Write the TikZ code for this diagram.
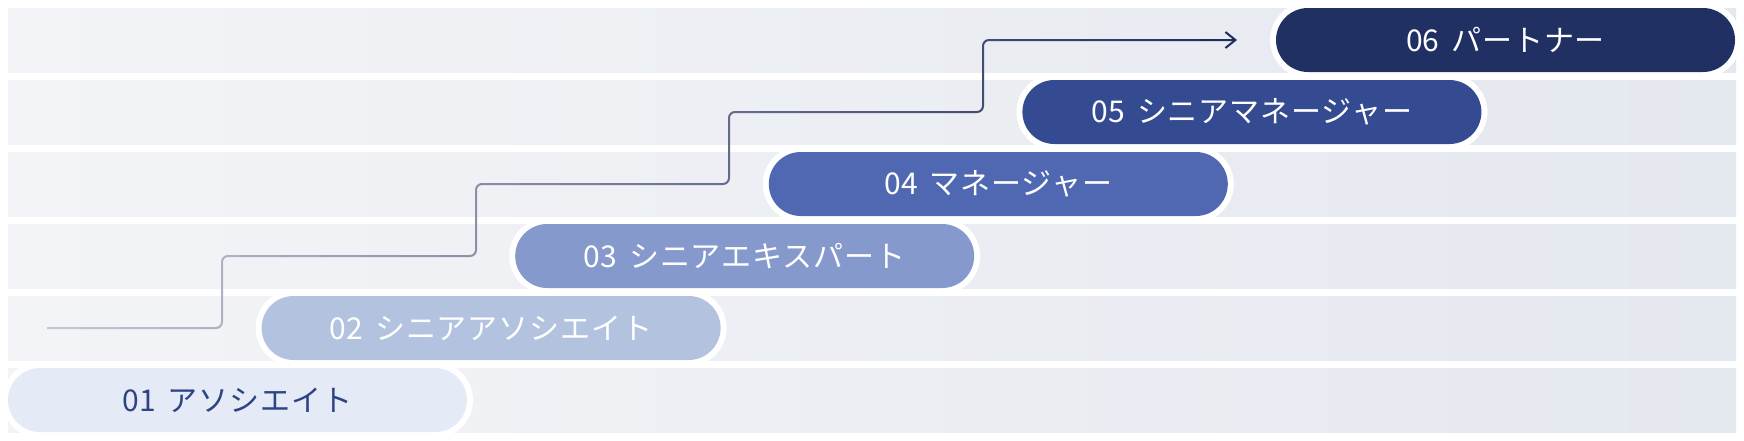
\documentclass[tikz,border=0pt]{standalone}
\usepackage{fontspec}
\setmainfont{Noto Sans CJK JP}
\newfontfamily\kana[LetterSpace=3]{Noto Sans CJK JP}
\usepackage{tikz}
\usetikzlibrary{arrows.meta}
\definecolor{bgL}{HTML}{F3F4F7}
\definecolor{bgR}{HTML}{E4E8EF}
\definecolor{lnA}{HTML}{C4C6D2}
\definecolor{lnB}{HTML}{1F2D5C}
\definecolor{cA}{HTML}{E5EBF6}
\definecolor{cB}{HTML}{B3C2DE}
\definecolor{cC}{HTML}{8699CC}
\definecolor{cD}{HTML}{5068B2}
\definecolor{cE}{HTML}{354B91}
\definecolor{cF}{HTML}{213063}
\definecolor{tA}{HTML}{2E4385}
\newcommand{\lvl}[2]{#1\hspace{6pt}{\kana #2}}
\tikzset{
  pill/.style={rectangle,rounded corners=16pt,minimum width=229.5pt,minimum height=32pt,inner sep=0pt,
    text=white,font=\fontsize{15pt}{18pt}\selectfont,preaction={draw=white,line width=6pt}},
  stair/.style={line width=1pt,rounded corners=3pt}
}
\begin{document}
\begin{tikzpicture}[x=0.5pt,y=-0.5pt]
       \useasboundingbox(0,0)rectangle(1744,440);
       \fill[white](0,0)rectangle(1744,440);
       \foreach \i in {0,...,5}
         \shade[left color=bgL,right color=bgR](8,8+72*\i)rectangle(1736,72+72*\i);
       \coordinate(S)at(47,328);
       \coordinate(E)at(1237,40);
       % stair line, coloured band by band
       \foreach \k in {0,...,30}{
         \pgfmathsetmacro{\p}{min(100,100*\k/29)}
         \begin{scope}
           \clip(40+40*\k,0)rectangle(80+40*\k,440);
           \draw[stair,draw=lnB!\p!lnA,-{Straight Barb[length=5pt,width=8pt]}](S)-|(222,256)-|(476,184)-|(729,112)-|(983,40)--(E);
         \end{scope}
       }
       \node[pill,fill=cA,text=tA](p1)at(237.5,400){\lvl{01}{アソシエイト}};
       \node[pill,fill=cB](p2)at(491.1,328){\lvl{02}{シニアアソシエイト}};
       \node[pill,fill=cC](p3)at(744.7,256){\lvl{03}{シニアエキスパート}};
       \node[pill,fill=cD](p4)at(998.3,184){\lvl{04}{マネージャー}};
       \node[pill,fill=cE](p5)at(1251.9,112){\lvl{05}{シニアマネージャー}};
       \node[pill,fill=cF](p6)at(1505.5,40){\lvl{06}{パートナー}};
      \end{tikzpicture}
\end{document}
